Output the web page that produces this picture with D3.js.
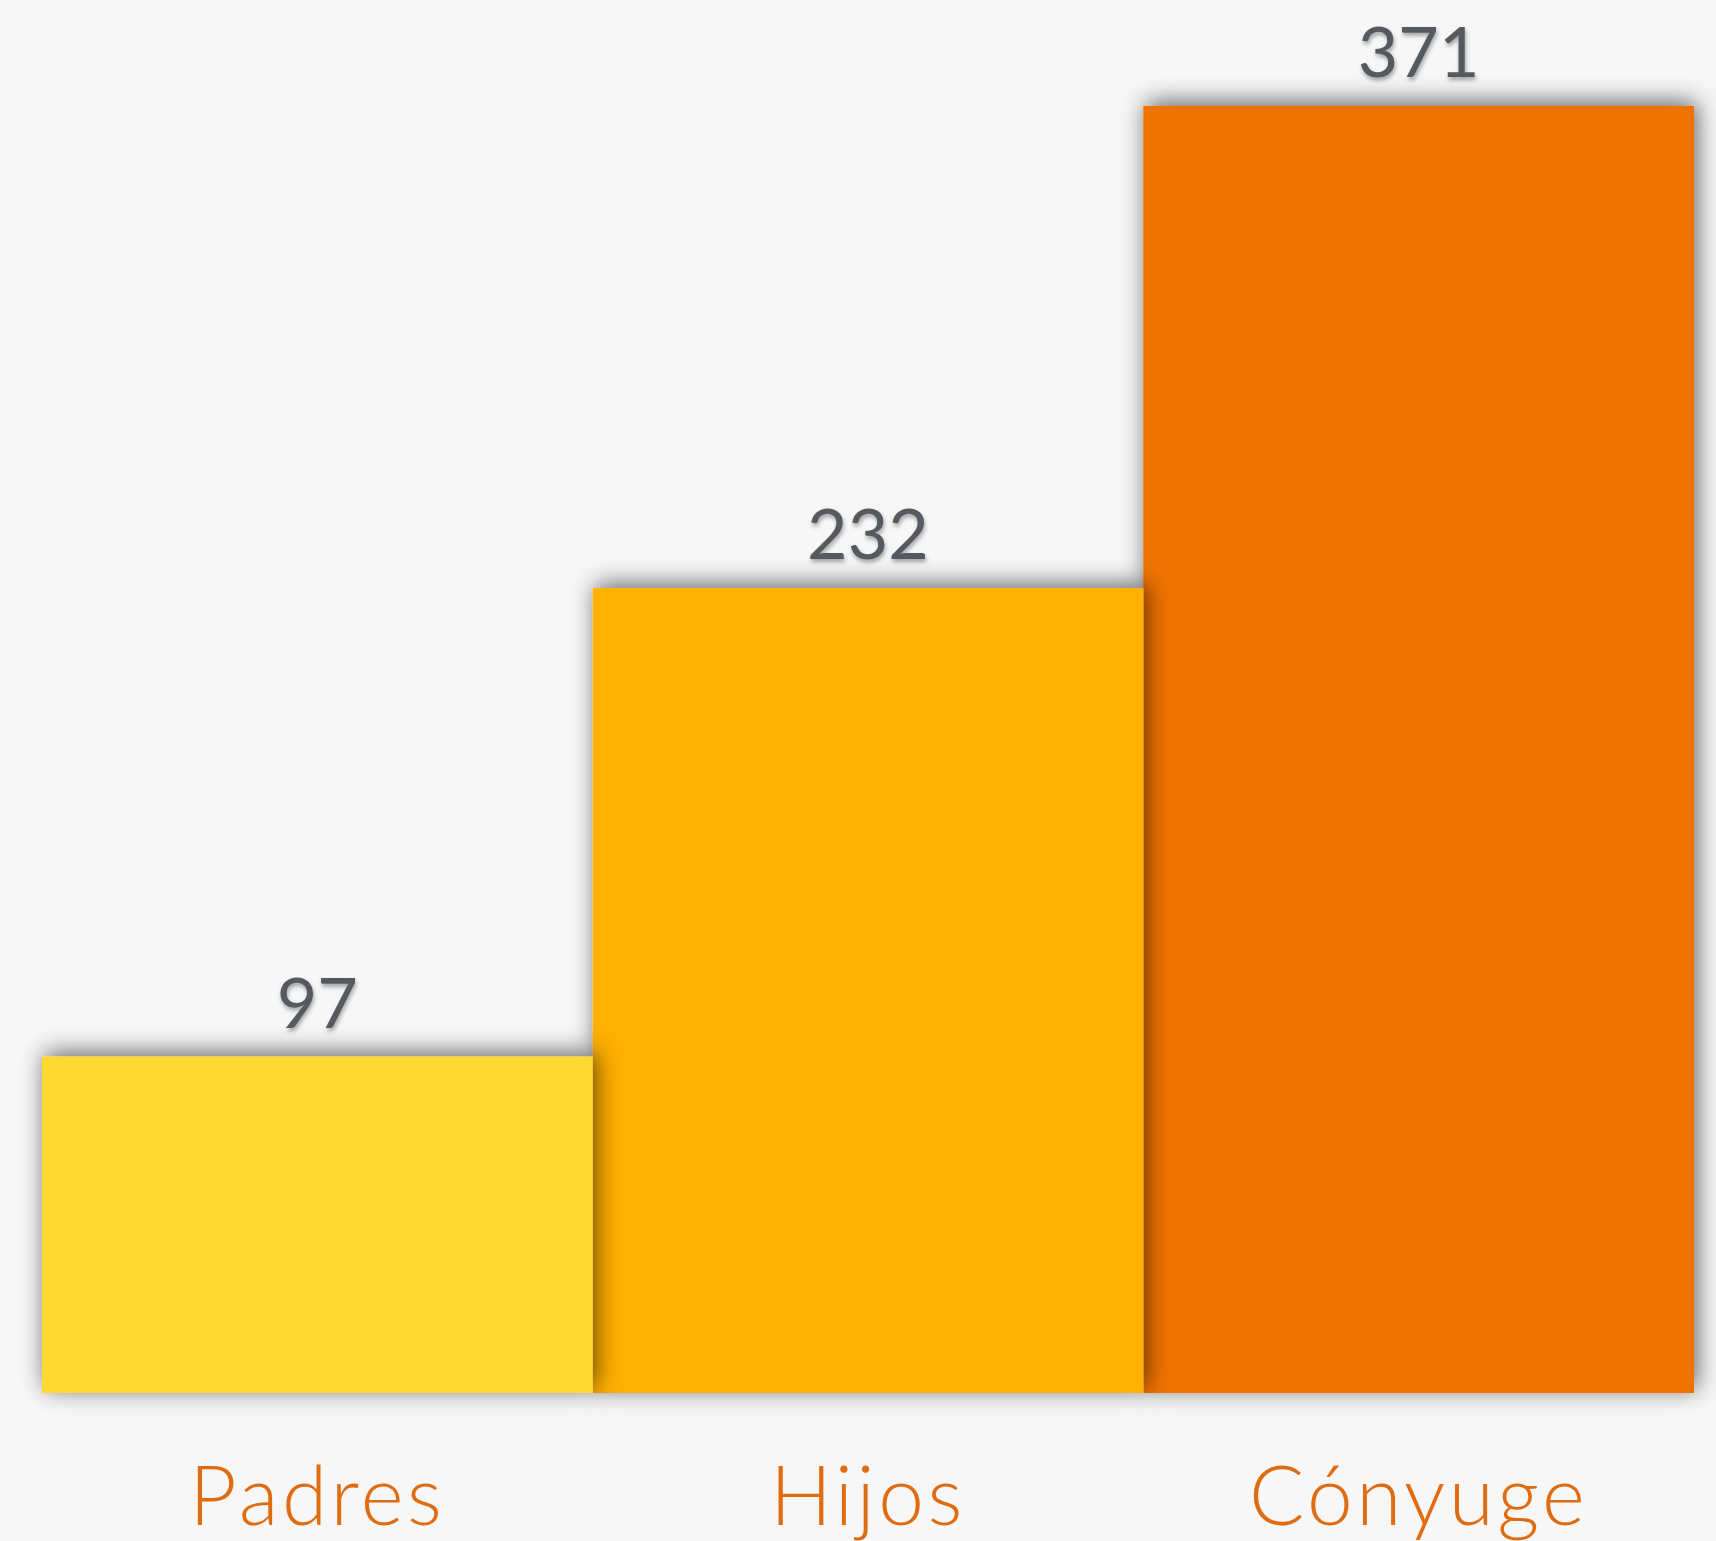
<!DOCTYPE html>
<html>
<head>
<meta charset="utf-8">
<script src="https://cdn.jsdelivr.net/npm/d3@7"></script>
<style>
  html, body { margin: 0; padding: 0; background: #f7f7f7; }
  svg { display: block; }
</style>
</head>
<body>
<svg id="chart"></svg>
<script>
// data
const categories = ["Padres", "Hijos", "Cónyuge"];
const values = [97, 232, 371];
const barColors = ["#ffd932", "#ffb000", "#f07300"];

const width = 1716, height = 1541;
const margin = { top: 106, right: 22, bottom: 148, left: 42 };

const svg = d3.select("#chart")
  .attr("width", width)
  .attr("height", height)
  .style("background", "#f7f7f7");

const defs = svg.append("defs");

defs.append("filter")
  .attr("id", "barShadow")
  .attr("x", "-20%").attr("y", "-20%")
  .attr("width", "140%").attr("height", "140%")
  .append("feDropShadow")
  .attr("dx", 3).attr("dy", -4)
  .attr("stdDeviation", 12)
  .attr("flood-color", "#000")
  .attr("flood-opacity", 0.6);

defs.append("filter")
  .attr("id", "textShadow")
  .attr("x", "-20%").attr("y", "-30%")
  .attr("width", "140%").attr("height", "160%")
  .append("feDropShadow")
  .attr("dx", 1).attr("dy", 3)
  .attr("stdDeviation", 2)
  .attr("flood-color", "#000")
  .attr("flood-opacity", 0.35);

const data = categories.map((c, i) => ({ name: c, value: values[i], color: barColors[i] }));

const x = d3.scaleBand()
  .domain(categories)
  .range([margin.left, width - margin.right])
  .padding(0);

const y = d3.scaleLinear()
  .domain([0, d3.max(values)])
  .range([height - margin.bottom, margin.top]);

// drawn right to left so each bar's shadow falls on its right neighbour
const bars = svg.append("g");
bars.selectAll("rect")
  .data(data.slice().reverse())
  .join("rect")
  .attr("x", (d) => x(d.name))
  .attr("y", (d) => y(d.value))
  .attr("width", x.bandwidth())
  .attr("height", (d) => y(0) - y(d.value))
  .attr("fill", (d) => d.color)
  .attr("filter", "url(#barShadow)");

// value labels
svg.append("g")
  .selectAll("text")
  .data(data)
  .join("text")
  .attr("x", (d) => x(d.name) + x.bandwidth() / 2)
  .attr("y", (d) => y(d.value) - 29)
  .attr("text-anchor", "middle")
  .attr("font-family", "Lato, 'Open Sans', sans-serif")
  .attr("font-size", 70)
  .attr("fill", "#545a61")
  .attr("filter", "url(#textShadow)")
  .text((d) => d.value);

// category axis, no line or ticks
const xAxis = svg.append("g")
  .attr("transform", `translate(0,${height - margin.bottom})`)
  .call(d3.axisBottom(x).tickSize(0).tickPadding(132));

xAxis.select(".domain").remove();
xAxis.selectAll("text")
  .attr("font-family", "Lato, 'Open Sans', sans-serif")
  .attr("font-weight", 300)
  .attr("font-size", 82)
  .attr("letter-spacing", 3.5)
  .attr("fill", "#e06c12")
  .attr("dy", 0);
</script>
</body>
</html>
